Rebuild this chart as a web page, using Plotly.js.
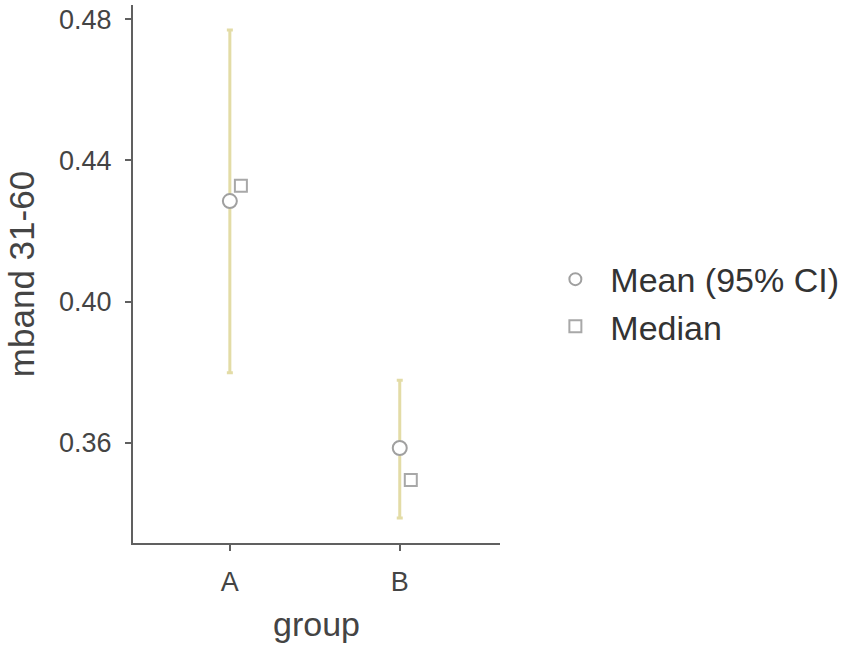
<!DOCTYPE html>
<html><head><meta charset="utf-8">
<script src="https://cdn.plot.ly/plotly-3.0.1.min.js"></script>
<style>body{margin:0;background:#fff}#chart{width:851px;height:656px}</style>
</head><body><div id="chart"></div>
<script>
const groups = ["A", "B"];
const meanVals = [0.4285, 0.3586];
const ciUpper = [0.4769, 0.3778];
const ciLower = [0.3799, 0.3388];
const medianVals = [0.4328, 0.3495];

const idx = groups.map((g, i) => i);
const dodge = 0.065;

const meanTrace = {
  x: idx, y: meanVals, type: 'scatter', mode: 'markers', name: 'Mean (95% CI)',
  marker: {symbol: 'circle', size: 14, color: '#ffffff', line: {color: '#a0a0a0', width: 2}},
  error_y: {type: 'data', symmetric: false,
    array: ciUpper.map((u, i) => u - meanVals[i]),
    arrayminus: meanVals.map((m, i) => m - ciLower[i]),
    color: '#e3dca6', thickness: 3, width: 3}
};
const medTrace = {
  x: idx.map(i => i + dodge), y: medianVals, type: 'scatter', mode: 'markers', name: 'Median',
  marker: {symbol: 'square', size: 12, color: '#ffffff', line: {color: '#a8a8a8', width: 2}}
};

const layout = {
  width: 851, height: 656,
  margin: {l: 133, r: 351, t: 5, b: 113, autoexpand: false},
  paper_bgcolor: '#fff', plot_bgcolor: '#fff',
  font: {family: 'Liberation Sans, Arial, sans-serif', color: '#444'},
  showlegend: true,
  legend: {x: 1.11, y: 0.446, xanchor: 'left', yanchor: 'middle', itemwidth: 60,
    font: {size: 34, color: '#333'}, tracegroupgap: 0, itemsizing: 'constant'},
  xaxis: {range: [-0.57, 1.59], tickvals: idx, ticktext: groups,
    showgrid: false, zeroline: false, showline: true, linecolor: '#606060', linewidth: 2,
    ticks: 'outside', ticklen: 6, tickcolor: '#606060', tickwidth: 2,
    ticklabelstandoff: 8,
    tickfont: {size: 27, color: '#444'},
    title: {text: 'group', font: {size: 34, color: '#444'}, standoff: 16}},
  yaxis: {range: [0.3317, 0.484], tickvals: [0.36, 0.40, 0.44, 0.48],
    ticktext: ['0.36', '0.40', '0.44', '0.48'],
    showgrid: false, zeroline: false, showline: true, linecolor: '#606060', linewidth: 2,
    ticks: 'outside', ticklen: 6, tickcolor: '#606060', tickwidth: 2,
    ticklabelstandoff: 8,
    tickfont: {size: 27, color: '#444'},
    title: {text: 'mband 31-60', font: {size: 35, color: '#444'}, standoff: 14}}
};

Plotly.newPlot('chart', [meanTrace, medTrace], layout, {displayModeBar: false, staticPlot: true});
</script></body></html>
